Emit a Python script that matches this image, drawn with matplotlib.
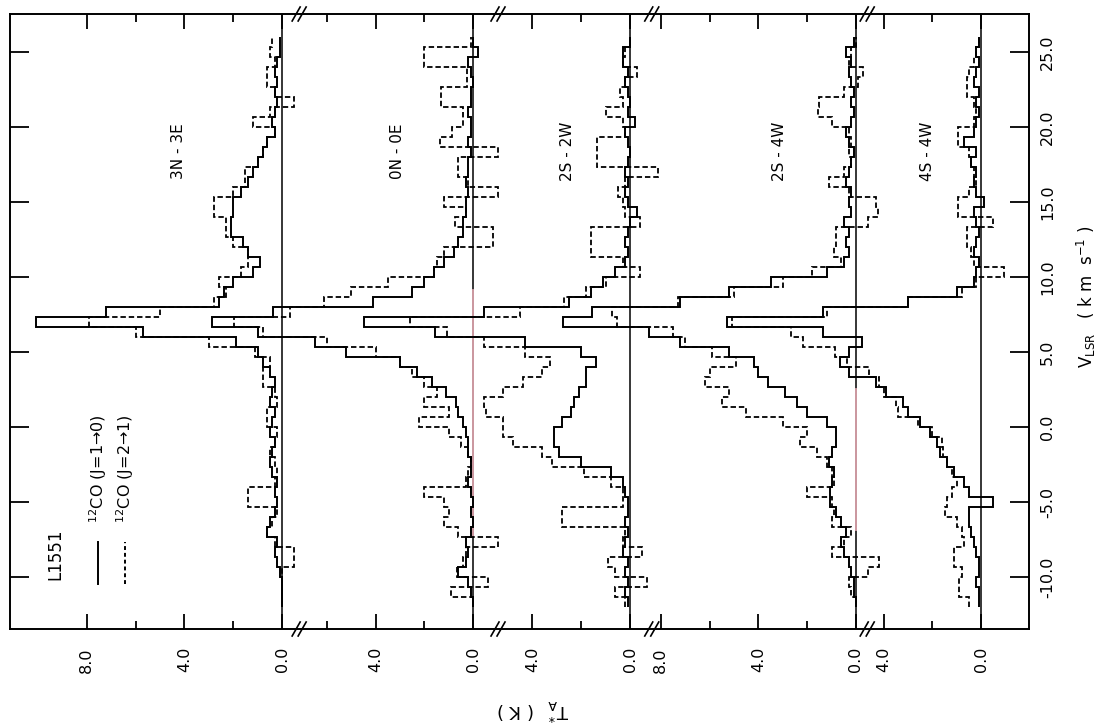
import numpy as np
import matplotlib
matplotlib.use("Agg")
import matplotlib.pyplot as plt

# velocity channels (km/s): first edge, channel width, number of channels
v_start = -12.0
v_width = 2.0 / 3.0
n_chan = 57

positions = ["3N - 3E", "0N - 0E", "2S - 2W", "2S - 4W", "4S - 4W"]

# T_A* (K) per channel, lowest velocity first
co10_3n3e = [0, 0, 0, 0.1, 0.2, 0.3, 0.2, 0.6, 0.5, 0.3,
             0.2, 0.3, 0.2, 0.4, 0.5, 0.4, 0.3, 0.5, 0.4, 0.3,
             0.5, 0.4, 0.3, 0.5, 0.8, 1.0, 1.9, 5.7, 10.1, 7.2,
             2.6, 2.4, 2.0, 1.2, 0.9, 1.4, 1.6, 2.1, 2.1, 2.0,
             2.0, 1.7, 1.4, 1.2, 1.0, 0.8, 0.6, 0.3, 0.4, 0.3,
             0.2, 0.3, 0.2, 0.3, 0.2, 0.1, 0.1]
co21_3n3e = [0, 0, 0, 0, -0.5, -0.5, 0.3, 0.6, 0.4, 0.2,
             1.4, 1.4, 0.3, 0.2, 0.3, 0.5, 0.3, 0.2, 0.6, 0.6,
             0.2, 0.3, 0.8, 0.8, 0.5, 1.1, 3.0, 6.0, 7.9, 5.0,
             2.8, 2.3, 2.6, 1.7, 1.4, 1.4, 2.0, 2.3, 2.3, 2.8,
             2.8, 2.0, 1.5, 1.5, 1.0, 0.8, 0.6, 0.3, 1.2, 0.5,
             -0.5, 0.3, 0.6, 0.6, 0.3, 0.5, 0.4]

co10_0n0e = [0, 0.1, 0.2, 0.6, 0.3, 0.2, 0.3, 0.1, 0.0, 0.1,
             0.0, 0.1, 0.2, 0.1, 0.1, 0.2, 0.2, 0.3, 0.4, 0.6,
             0.7, 1.1, 1.7, 2.3, 3.0, 5.2, 6.5, 8.8, 10.7, 8.2,
             4.1, 2.5, 2.0, 1.6, 1.2, 0.8, 0.6, 0.4, 0.4, 0.3,
             0.3, 0.2, 0.3, 0.2, 0.2, 0.1, 0.2, 0.1, 0.1, 0.2,
             0.1, 0.1, 0.0, 0.1, 0.2, -0.2, 0.0]
co21_0n0e = [0, 0.9, -0.6, 0.65, 0.4, 0.3, -1.0, 0.6, 1.2, 1.0,
             1.2, 2.0, 0.3, 0.2, 0.1, 0.2, 0.5, 1.0, 2.2, 1.0,
             2.0, 1.5, 2.0, 2.5, 3.0, 4.0, 6.0, 8.6, 9.8, 7.5,
             6.1, 5.0, 3.5, 1.6, 1.5, 1.2, -0.8, -0.8, 0.75, 0.3,
             1.2, -1.0, 0.2, 0.6, 0.6, -1.0, 1.35, 0.85, 0.4, 0.4,
             1.3, 1.3, 0.25, 0.25, 2.0, 2.0, 0.1]

co10_2s2w = [0.1, 0.2, 0.1, 0.2, 0.1, 0.3, 0.2, 0.1, 0.2, 0.1,
             0.1, 0.2, 0.3, 0.8, 2.0, 2.9, 3.1, 3.1, 2.8, 2.4,
             2.3, 2.1, 1.8, 1.8, 1.4, 2.0, 4.3, 8.0, 10.9, 6.0,
             2.5, 1.6, 1.1, 0.6, 0.2, 0.1, 0.2, 0.1, 0.0, -0.3,
             0.1, 0.2, 0.1, 0.2, 0.1, 0.0, 0.1, 0.2, -0.2, 0.1,
             0.0, 0.1, 0.2, 0.1, 0.3, 0.3, 0.0]
co21_2s2w = [0.2, 0.6, -0.7, 0.6, 0.9, -0.5, 0.3, 0.2, 2.8, 2.8,
             0.3, 0.3, 0.8, 1.9, 3.2, 3.6, 4.8, 5.2, 5.2, 5.9,
             6.0, 5.2, 4.4, 3.6, 3.3, 4.3, 6.0, 7.5, 9.0, 4.5,
             2.7, 1.8, 1.0, -0.4, 0.3, 1.6, 1.6, 1.6, -0.4, 0.2,
             0.3, 0.5, 0.2, -1.15, 1.35, 1.35, 1.35, 0.2, 0.3, 1.0,
             0.3, 0.4, 0.2, -0.3, 0.3, 0.2, 0.0]

co10_2s4w = [0, 0.1, 0.1, 0.2, 0.3, 0.5, 0.6, 0.4, 0.6, 0.8,
             1.05, 1.05, 1.0, 0.9, 1.1, 1.0, 0.8, 0.8, 1.2, 2.0,
             2.4, 2.9, 3.6, 4.0, 4.2, 5.2, 7.2, 8.5, 12.0, 10.8,
             7.2, 5.2, 3.5, 1.2, 0.5, 0.3, 0.4, 0.3, 0.5, 0.2,
             0.3, 0.2, 0.4, 0.3, 0.2, 0.1, 0.3, 0.4, 0.2, 0.1,
             0.2, 0.1, 0.2, 0.3, 0.2, 0.4, 0.1]
co21_2s4w = [0, 0.2, 0.3, -0.5, -0.95, 1.0, 0.5, 0.2, 1.0, 0.9,
             1.0, 2.0, 0.9, 1.0, 1.2, 1.6, 2.3, 2.0, 3.0, 4.5,
             5.5, 5.2, 6.2, 6.0, 4.9, 5.9, 7.0, 7.5, 9.8, 10.0,
             7.3, 5.0, 3.0, 1.8, 0.6, 0.9, 0.8, 0.8, -0.5, -0.9,
             -0.8, 0.3, 1.1, 0.5, 0.2, 0.3, 0.2, 0.3, 1.0, 1.55,
             1.5, 0.5, -0.1, -0.3, 0.3, 0.2, 0.0]

co10_4s4w = [0.1, 0.1, 0.2, 0.1, 0.1, 0.2, 0.3, 0.4, 0.5, 0.5,
             -0.5, 0.5, 0.7, 1.1, 1.4, 1.7, 1.8, 2.1, 2.5, 3.0,
             3.2, 3.9, 4.3, 5.4, 5.8, 5.4, 4.9, 6.5, 10.4, 6.5,
             3.0, 1.0, 0.3, 0.2, 0.1, 0.3, 0.2, 0.1, 0.2, 0.3,
             -0.1, 0.2, 0.3, 0.2, 0.4, 0.2, 0.7, 0.3, 0.2, 0.1,
             0.2, 0.1, 0.3, 0.2, 0.1, 0.2, 0.1]
co21_4s4w = [0.5, 0.9, 0.9, 0.8, 1.1, 1.1, 0.7, 0.8, 1.0, 1.5,
             1.4, 1.2, 1.0, 1.2, 1.4, 1.55, 1.6, 2.0, 2.6, 3.4,
             3.5, 4.0, 4.2, 4.6, 5.5, 6.0, 7.3, 7.8, 10.2, 6.3,
             3.0, 0.8, 0.2, -0.95, 0.3, 0.4, 0.6, 0.6, -0.5, 0.95,
             0.95, 0.5, 0.2, 0.3, 0.4, 0.5, 0.95, 0.95, 0.3, 0.2,
             0.3, 0.6, 0.6, 0.5, 0.3, 0.2, 0.1]

co10 = [co10_3n3e, co10_0n0e, co10_2s2w, co10_2s4w, co10_4s4w]
co21 = [co21_3n3e, co21_0n0e, co21_2s2w, co21_2s4w, co21_4s4w]

# layout: zero-level of each strip along the (K) axis, strip breaks, label spots
offsets = [11.15, 18.98, 25.41, 34.67, 39.80]
breaks = [11.85, 20.0, 26.3, 35.13]
x_total = 41.76
label_x = [6.89, 15.86, 22.83, 31.52, 37.62]
major_T = [[8, 4, 0], [4, 0], [4, 0], [8, 4, 0], [4, 0]]
minor_T = [[6, 2], [6, 2], [2], [6, 2], [2]]
v_ticks = [-10, -5, 0, 5, 10, 15, 20, 25]

W, H = 1106, 727
fig = plt.figure(figsize=(W / 100, H / 100), dpi=100)
ax = fig.add_axes([10 / W, 1 - 629 / H, 1019 / W, 615 / H])
ax.set_xlim(0, x_total)
ax.set_ylim(-13.47, 27.53)

edges = v_start + v_width * np.arange(n_chan + 1)

# zero lines, the scan shows two of them partly in pink
for off in offsets:
    ax.axvline(off, color="black", lw=1.1, zorder=1)
ax.plot([offsets[1]] * 2, [-7.3, 9.1], color="#dba3ab", lw=1.3, zorder=1.5)
ax.plot([offsets[3]] * 2, [-6.9, 2.5], color="#dba3ab", lw=1.3, zorder=1.5)

for off, s, d in zip(offsets, co10, co21):
    ax.stairs(off - np.array(s), edges, orientation="horizontal", baseline=None,
              color="black", lw=1.4, zorder=3)
    ax.stairs(off - np.array(d), edges, orientation="horizontal", baseline=None,
              color="black", lw=1.3, linestyle=(0, (3, 1.6)), zorder=3)

# ticks
maj_pos, maj_lab, min_pos = [], [], []
for off, mj, mn in zip(offsets, major_T, minor_T):
    for t in mj:
        maj_pos.append(off - t)
        maj_lab.append(f"{t:.1f}")
    for t in mn:
        min_pos.append(off - t)
ax.set_xticks(maj_pos)
ax.set_xticklabels(maj_lab, rotation=90)
ax.set_xticks(min_pos, minor=True)
ax.set_yticks(v_ticks)
ax.set_yticklabels([f"{v:.1f}" for v in v_ticks], rotation=90, va="center")
ax.yaxis.tick_right()
ax.tick_params(axis="x", which="both", direction="in", top=True, bottom=True,
               labelsize=11.5, pad=13, width=1.3)
ax.tick_params(axis="x", which="major", length=11)
ax.tick_params(axis="x", which="minor", length=6)
ax.tick_params(axis="y", which="major", direction="in", left=True, right=True,
               length=14, width=1.3, labelsize=11.5, pad=8)
for sp in ax.spines.values():
    sp.set_linewidth(1.4)

# break marks on top and bottom frame
px_x = x_total / 1019.0
px_y = 1.0 / 615.0
tr = ax.get_xaxis_transform()
for b in breaks:
    for yb in (0.0, 1.0):
        for k in (-3, 3):
            xc = b + k * px_x
            ax.plot([xc - 4 * px_x, xc + 4 * px_x], [yb - 7 * px_y, yb + 7 * px_y],
                    color="black", lw=1.2, transform=tr, clip_on=False)

# strip names
for lx, name in zip(label_x, positions):
    ax.text(lx, 18.4, name, rotation=90, ha="center", va="center", fontsize=11)

# legend block
ax.text(1.84, -8.5, "L1551", rotation=90, ha="center", va="center", fontsize=12)
ax.plot([3.61, 3.61], [-10.47, -7.67], color="black", lw=1.4)
ax.plot([4.71, 4.71], [-10.47, -7.67], color="black", lw=1.4, linestyle=(0, (2, 1.5)))
ax.text(3.61, -6.4, "$^{12}$CO (J=1\u21920)", rotation=90, ha="center", va="bottom",
        fontsize=11.5)
ax.text(4.71, -6.4, "$^{12}$CO (J=2\u21921)", rotation=90, ha="center", va="bottom",
        fontsize=11.5)

fig.text(533 / W, 1 - 710 / H, r"T$_\mathrm{A}^*$  ( K )", rotation=180, ha="center",
         va="center", fontsize=13)
fig.text(1086 / W, 1 - 297 / H, r"V$_\mathrm{LSR}$   ( k m  s$^{-1}$ )", rotation=90,
         ha="center", va="center", fontsize=12)

fig.savefig("out.png", dpi=100)
